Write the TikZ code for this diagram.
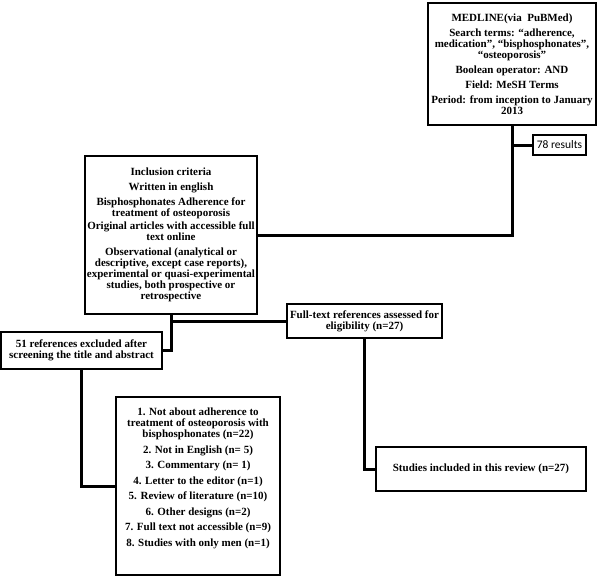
\documentclass[tikz,border=0pt]{standalone}
\usepackage{fontspec}
\setmainfont{Liberation Serif}
\newfontfamily\calibrifont{Carlito}

\begin{document}
\begin{tikzpicture}[x=1pt,y=-1pt,
  box/.style={draw,line width=1.5pt,inner sep=2pt,align=center,
    font=\bfseries\fontsize{11}{11}\selectfont},
  link/.style={line width=3pt}]
\useasboundingbox (0,0) rectangle (600,579);

\node[box,minimum width=168pt,minimum height=122pt](m) at (512,64)
  {MEDLINE(via~~PuBMed)\\[4pt]
   Search terms: “adherence,\\ medication”, “bisphosphonates”,\\ “osteoporosis”\\[4pt]
   Boolean operator: AND\\[4pt]
   Field: MeSH Terms\\[4pt]
   Period: from inception to January\\ 2013};
\node[draw,line width=1.2pt,minimum width=53pt,minimum height=20pt,inner sep=1pt,
  font=\calibrifont\fontsize{11.5}{12}\selectfont](r) at (559.5,145) {78 results};

\node[box,minimum width=170pt,minimum height=158pt](incl) at (171,235)
  {Inclusion criteria\\[4pt]
   Written in english\\[4pt]
   Bisphosphonates Adherence for\\ treatment of osteoporosis\\[2pt]
   Original articles with accessible full\\ text online\\[4pt]
   Observational (analytical or\\ descriptive, except case reports),\\
   experimental or quasi-experimental\\ studies, both prospective or\\ retrospective};

\node[box,minimum width=155pt,minimum height=34pt](ft) at (364.5,321)
  {Full-text references assessed for\\ eligibility (n=27)};
\node[box,minimum width=161pt,minimum height=37pt](ex) at (81.5,350.5)
  {51 references excluded after\\ screening the title and abstract};
\node[box,minimum width=164pt,minimum height=178pt](rs) at (198,486)
  {\parbox[c][170pt][t]{160pt}{\centering\vspace{7pt}
   1. Not about adherence to\\ treatment of osteoporosis with\\ bisphosphonates (n=22)\\[4.5pt]
   2. Not in English (n= 5)\\[4.5pt]
   3. Commentary (n= 1)\\[4.5pt]
   4. Letter to the editor (n=1)\\[4.5pt]
   5. Review of literature (n=10)\\[4.5pt]
   6. Other designs (n=2)\\[4.5pt]
   7. Full text not accessible (n=9)\\[4.5pt]
   8. Studies with only men (n=1)}};
\node[box,minimum width=210pt,minimum height=44pt](st) at (481,469)
  {Studies included in this review (n=27)};

\draw[link] (m.south) |- (incl.east);
\draw[link] (m.south |- r.west) -- (r.west);
\draw[link] (incl.south) |- (ex.east);
\draw[link] (incl.south |- ft.west) -- (ft.west);
\draw[link] (ex.south) |- (rs.west);
\draw[link] (ft.south) |- (st.west);
\end{tikzpicture}
\end{document}
